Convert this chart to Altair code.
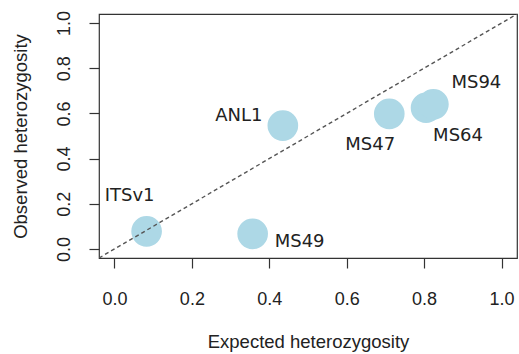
import altair as alt
import pandas as pd

# Marker heterozygosity estimates
markers = ["ITSv1", "MS49", "ANL1", "MS47", "MS64", "MS94"]
expected_het = [0.083, 0.357, 0.435, 0.710, 0.805, 0.824]
observed_het = [0.078, 0.067, 0.546, 0.598, 0.625, 0.640]

tick_values = [0.0, 0.2, 0.4, 0.6, 0.8, 1.0]
axis_range = [-0.04, 1.04]

df = pd.DataFrame({"marker": markers, "He": expected_het, "Ho": observed_het})
diag = pd.DataFrame({"He": axis_range, "Ho": axis_range})

# pixel offset of each marker name from its point
label_offsets = {
    "ITSv1": (-17, -35),
    "MS49": (47, 8),
    "ANL1": (-44, -10),
    "MS47": (-19, 31),
    "MS64": (32, 28),
    "MS94": (43, -21),
}

ink = "#222222"

x_enc = alt.X(
    "He:Q",
    scale=alt.Scale(domain=axis_range, nice=False, zero=False),
    axis=alt.Axis(
        values=tick_values, format=".1f", domain=False, grid=False,
        tickSize=10, tickColor="#333333", tickWidth=1.2,
        labelFont="Liberation Sans", labelFontSize=18, labelColor=ink,
        labelPadding=22, labelBaseline="top",
        title="Expected heterozygosity", titleFont="Liberation Sans",
        titleFontSize=18.5, titleFontWeight="normal", titleColor=ink,
        titleBaseline="alphabetic", titleX=209, titleY=89,
    ),
)
y_enc = alt.Y(
    "Ho:Q",
    scale=alt.Scale(domain=axis_range, nice=False, zero=False),
    axis=alt.Axis(
        values=tick_values, format=".1f", domain=False, grid=False,
        tickSize=10, tickColor="#333333", tickWidth=1.2,
        labelFont="Liberation Sans", labelFontSize=18, labelColor=ink,
        labelAngle=270, labelAlign="center", labelBaseline="alphabetic",
        labelPadding=20,
        title="Observed heterozygosity", titleFont="Liberation Sans",
        titleFontSize=18.5, titleFontWeight="normal", titleColor=ink,
        titleBaseline="alphabetic", titleX=-73, titleY=122,
    ),
)

points = alt.Chart(df).mark_circle(size=940, opacity=1, color="#ADD8E6").encode(
    x=x_enc, y=y_enc
)

one_to_one = alt.Chart(diag).mark_line(
    strokeDash=[4, 3], color="#555555", strokeWidth=1.4, clip=True
).encode(x="He:Q", y="Ho:Q")

labels = [
    alt.Chart(df).transform_filter(alt.datum.marker == name).mark_text(
        font="DejaVu Sans", fontSize=18, color=ink, align="center",
        baseline="middle", dx=dx, dy=dy
    ).encode(x="He:Q", y="Ho:Q", text="marker:N")
    for name, (dx, dy) in label_offsets.items()
]

chart = alt.layer(points, one_to_one, *labels).properties(
    width=418, height=244,
    autosize=alt.AutoSizeParams(type="none"),
    padding={"left": 99, "top": 14, "right": 2, "bottom": 96},
    background="white",
).configure_view(stroke="#333333", strokeWidth=1.2)

chart.save("out.html", embed_options={"renderer": "svg", "actions": False})
